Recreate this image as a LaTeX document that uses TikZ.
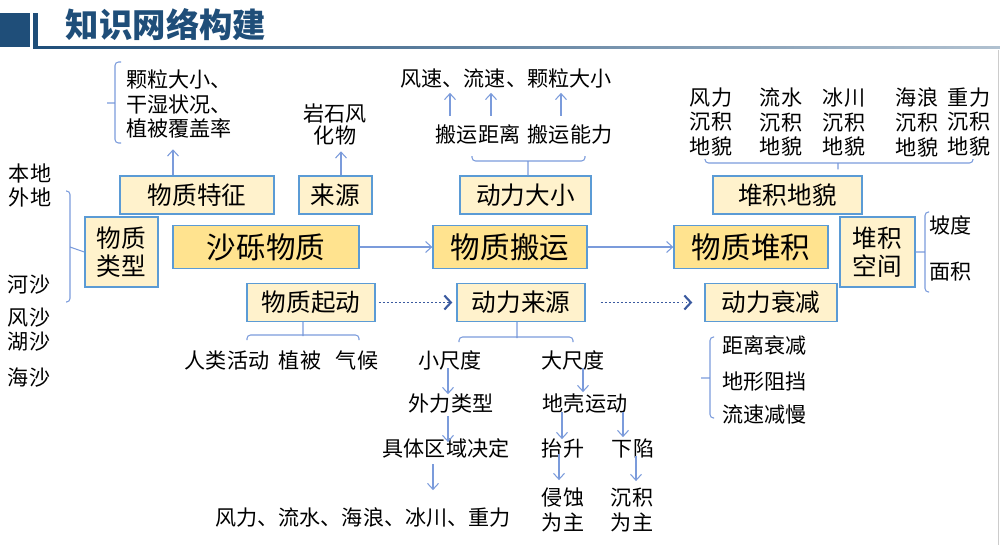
\documentclass[tikz,border=0pt]{standalone}
\usepackage{fontspec}
\setmainfont{Noto Sans CJK SC}
\usepackage{xcolor}
\usepackage{tikz}
\usetikzlibrary{positioning, arrows.meta}
\definecolor{boxline}{HTML}{5B9BD5}
\definecolor{boxfill}{HTML}{FFF2CC}
\definecolor{mainfill}{HTML}{FFE38F}
\definecolor{linkblue}{HTML}{7B9BDB}
\definecolor{titleblue}{HTML}{1F4E79}
\definecolor{dotblue}{HTML}{3A5A9F}
\tikzset{
    topic/.style={rectangle, draw=boxline, thick, fill=boxfill, align=center, inner sep=0pt, minimum height=0.76cm, font=\fontsize{14}{16}\selectfont},
    sidebox/.style={topic, minimum height=1.4cm},
    mainstep/.style={topic, fill=mainfill, minimum height=0.86cm, font=\fontsize{16.8}{19}\selectfont},
    note/.style={align=center, inner sep=0pt, font=\fontsize{12}{14.2}\selectfont},
    heading/.style={inner sep=0pt, text=titleblue, font=\fontsize{19}{19}\selectfont\bfseries},
    link/.style={-{Straight Barb[length=1.2mm, width=2.2mm]}, draw=linkblue, semithick},
    flow/.style={-{Straight Barb[length=1.3mm, width=2.8mm, line width=1.2pt]}, draw=dotblue, line width=1.1pt, dash pattern=on 1.1pt off 1.2pt},
    brace/.style={draw=linkblue, semithick, rounded corners=2pt}
}
\begin{document}
\begin{tikzpicture}[x=0.02cm, y=-0.02cm]
    \useasboundingbox (0,0) rectangle (1000,545);
    % Heading
    \fill[titleblue] (0,13) rectangle (30,47);
    \fill[titleblue] (33,13) rectangle (38,47);
    \shade[left color=titleblue, right color=titleblue!35] (33,46) rectangle (1000,48.5);
    \node[heading] (title) at (166,25) {知识网络构建};
    \draw[black!20] (998,50) -- (998,545);

    % Main chain
    \node[mainstep, minimum width=3.72cm] (sand) at (266,247) {沙砾物质};
    \node[mainstep, minimum width=3.08cm] (move) at (510,247) {物质搬运};
    \node[mainstep, minimum width=3.08cm] (pile) at (751,247) {物质堆积};
    \draw[link] (sand) -- (move);
    \draw[link] (move) -- (pile);

    % Upper boxes
    \node[topic, minimum width=3.08cm] (feat) at (197,195) {物质特征};
    \node[topic, minimum width=1.46cm] (source) at (335.5,195) {来源};
    \node[topic, minimum width=2.62cm] (force) at (525.5,195) {动力大小};
    \node[topic, minimum width=2.98cm] (form) at (787.5,195) {堆积地貌};

    % Side boxes
    \node[sidebox, minimum width=1.46cm] (type) at (121.5,252) {物质\\类型};
    \node[sidebox, minimum width=1.5cm] (space) at (877.5,252) {堆积\\空间};

    % Lower boxes
    \node[topic, minimum width=2.56cm] (start) at (311,302.5) {物质起动};
    \node[topic, minimum width=2.56cm] (origin) at (521,302.5) {动力来源};
    \node[topic, minimum width=2.64cm] (decay) at (771,302.5) {动力衰减};
    \draw[flow, shorten <=0.06cm, shorten >=0.08cm] (start) -- (origin);
    \draw[flow, shorten <=0.3cm, shorten >=0.24cm] (origin) -- (decay);

    % Material type
    \node[note] (local) at (30,173) {本地};
    \node[note] (far) at (30,197) {外地};
    \node[note] (river) at (29,285) {河沙};
    \node[note] (desert) at (29,318) {风沙};
    \node[note] (lake) at (29,342) {湖沙};
    \node[note] (sea) at (29,378) {海沙};
    \draw[brace] (type.west) -- (70,247) (66,191) -- (70,191) -- (70,302) -- (66,302);

    % Material features
    \node[note, align=left, anchor=west] (featnote) at (126,104) {颗粒大小、\\干湿状况、\\植被覆盖率};
    \draw[brace] (121,62) -- (115,62) -- (115,143) -- (121,143) (115,103) -- (107,103);
    \draw[link] ([xshift=-0.48cm]feat.north) -- ++(0,-26);

    % Source
    \node[note, font=\fontsize{12}{12.5}\selectfont] (rock) at (335,124) {岩石风\\化物};
    \draw[link] ([xshift=0.11cm]source.north) -- ++(0,-24);

    % Force size
    \node[note] (dist) at (478,134) {搬运距离};
    \node[note] (power) at (570,134) {搬运能力};
    \node[note] (speed) at (506,78) {风速、流速、颗粒大小};
    \draw[brace] (force.north) ++(2.5,0) -- ++(0,-14) (472,156) -- (472,161) -- (585,161) -- (585,156);
    \draw[link] (dist.north) ++(-28,-8) -- ++(0,-23);
    \draw[link] (dist.north) ++(13,-8) -- ++(0,-23);
    \draw[link] (power.north) ++(-9,-8) -- ++(0,-23);

    % Landforms
    \node[note] (windform) at (711,122) {风力\\沉积\\地貌};
    \node[note] (riverform) at (781,122) {流水\\沉积\\地貌};
    \node[note] (iceform) at (844,122) {冰川\\沉积\\地貌};
    \node[note] (waveform) at (917,122) {海浪\\沉积\\地貌};
    \node[note] (massform) at (969,122) {重力\\沉积\\地貌};
    \draw[brace] (form.north) ++(50.5,-6) -- ++(0,-7) (705,159) -- (705,163) -- (973,163) -- (973,159);

    % Space
    \draw[brace] (space.east) -- (925,252) (929,212) -- (925,212) -- (925,292) -- (929,292);
    \node[note, anchor=west] (slope) at (929,225) {坡度};
    \node[note, anchor=west] (area) at (929,272) {面积};

    % Start
    \draw[brace] (start.south) ++(-8,0) -- ++(0,14) (247,340) -- (247,335) -- (359,335) -- (359,340);
    \node[note] (human) at (227,360) {人类活动};
    \node[note] (plant) at (300,360) {植被};
    \node[note] (climate) at (357,360) {气候};

    % Force origin
    \draw[brace] (origin.south) ++(-4,0) -- ++(0,16) (459,342) -- (459,337) -- (573,337) -- (573,342);
    \node[note] (small) at (450,360) {小尺度};
    \node[note] (large) at (573,360) {大尺度};
    \node[note] (outer) at (451,404) {外力类型};
    \node[note] (region) at (446,448) {具体区域决定};
    \node[note] (agents) at (363,517) {风力、流水、海浪、冰川、重力};
    \node[note] (crust) at (585,404) {地壳运动};
    \node[note] (uplift) at (563,448) {抬升};
    \node[note] (sink) at (633,448) {下陷};
    \node[note] (erode) at (563,510) {侵蚀\\为主};
    \node[note] (deposit) at (632,510) {沉积\\为主};
    \draw[link] (small.south) ++(-2,-2) -- ++(0,26);
    \draw[link] (outer.south) ++(-3,2) -- ++(0,26);
    \draw[link] (region.south) ++(-13,6) -- ++(0,26);
    \draw[link] (large.south) ++(10,-2) -- ++(0,24);
    \draw[link] (crust.south) ++(-23,-2) -- ++(0,27);
    \draw[link] (crust.south) ++(38,-2) -- ++(0,25);
    \draw[link] (uplift.south) ++(-4,-4) -- ++(0,26);
    \draw[link] (sink.south) ++(3,-2) -- ++(0,25);

    % Decay
    \draw[brace] (701,378) -- (710,378) (714,337) -- (710,337) -- (710,418) -- (714,418);
    \node[note, anchor=west] (gapnote) at (722,345) {距离衰减};
    \node[note, anchor=west] (terrain) at (722,382) {地形阻挡};
    \node[note, anchor=west] (slow) at (722,415) {流速减慢};
\end{tikzpicture}
\end{document}
